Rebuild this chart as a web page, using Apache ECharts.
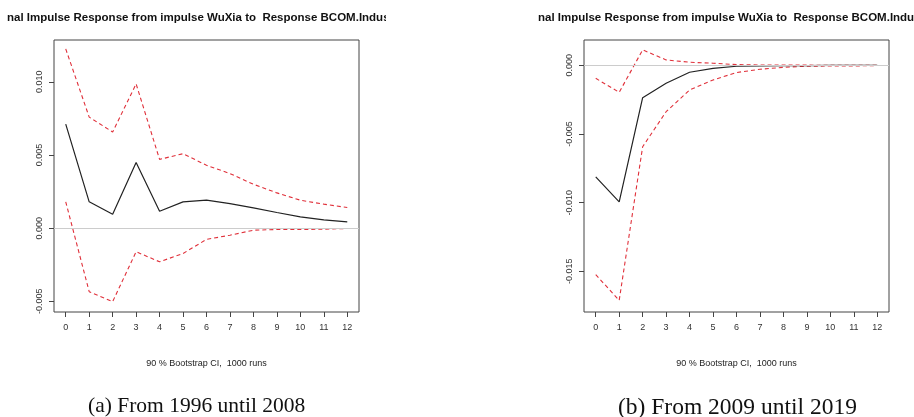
<!DOCTYPE html>
<html>
<head>
<meta charset="utf-8">
<script src="https://cdn.jsdelivr.net/npm/echarts@6/dist/echarts.min.js"></script>
<style>
html,body{margin:0;padding:0;background:#fff;}
#wrap{position:relative;width:914px;height:417px;overflow:hidden;}
#ca{position:absolute;left:0;top:0;width:386px;height:417px;}
#cb{position:absolute;left:386px;top:0;width:528px;height:417px;}
</style>
</head>
<body>
<div id="wrap"><div id="ca"></div><div id="cb"></div></div>
<script>
const horizons = ['0','1','2','3','4','5','6','7','8','9','10','11','12'];
const titleText = 'nal Impulse Response from impulse WuXia to  Response BCOM.Indus';
const xName = '90 % Bootstrap CI,  1000 runs';

// (a) 1996-2008
const irfA   = [0.00711, 0.00180, 0.00095, 0.00448, 0.00116, 0.00180, 0.00191, 0.00168, 0.00139, 0.00107, 0.00077, 0.00057, 0.00043];
const upperA = [0.01225, 0.00759, 0.00657, 0.00986, 0.00470, 0.00509, 0.00430, 0.00373, 0.00300, 0.00241, 0.00191, 0.00164, 0.00141];
const lowerA = [0.00180, -0.00434, -0.00502, -0.00161, -0.00230, -0.00173, -0.00077, -0.00048, -0.00014, -0.00009, -0.00009, -0.00007, -0.00002];
const yTicksA = [-0.005, 0.000, 0.005, 0.010];
const captionA = '(a) From 1996 until 2008';

// (b) 2009-2019
const irfB   = [-0.00812, -0.00994, -0.00236, -0.00131, -0.00051, -0.00022, -0.00007, -0.00005, -0.00003, -0.00002, -0.00001, -0.00001, 0];
const upperB = [-0.00095, -0.00197, 0.00112, 0.00039, 0.00022, 0.00015, 0.00005, 0.00002, 0.00001, 0.00001, 0, 0, 0];
const lowerB = [-0.01524, -0.01711, -0.00593, -0.00338, -0.00180, -0.00107, -0.00053, -0.00029, -0.00015, -0.00007, -0.00005, -0.00005, -0.00002];
const yTicksB = [-0.015, -0.010, -0.005, 0.000];
const captionB = '(b) From 2009 until 2019';

function build(cfg){
  const lab = {fontFamily:'Liberation Sans, Arial, sans-serif', fontSize:9, color:'#333'};
  return {
    animation:false,
    backgroundColor:'#fff',
    grid:{left:cfg.gl, right:cfg.gr, top:40, bottom:105, show:true, borderColor:'#444', borderWidth:1, backgroundColor:'transparent'},
    xAxis:{
      type:'category', data:horizons, boundaryGap:true,
      axisLine:{show:false, onZero:false},
      axisTick:{show:true, alignWithLabel:true, length:5, lineStyle:{color:'#444'}},
      axisLabel:Object.assign({margin:11, interval:0}, lab),
      splitLine:{show:false},
      name:xName, nameLocation:'middle', nameGap:47,
      nameTextStyle:{fontFamily:'Liberation Sans, Arial, sans-serif', fontSize:9, color:'#222'}
    },
    yAxis:{
      type:'value', min:cfg.ymin, max:cfg.ymax, scale:true,
      axisLine:{show:false},
      axisTick:{show:true, length:5, customValues:cfg.ticks, lineStyle:{color:'#444'}},
      axisLabel:Object.assign({rotate:90, margin:10, customValues:cfg.ticks, formatter:v=>Number(v).toFixed(3)}, lab),
      splitLine:{show:false}
    },
    graphic:[
      {type:'text', left:cfg.tx, top:12, style:{text:titleText, font:'bold 11.5px "Liberation Sans", Arial, sans-serif', fill:'#111'}},
      {type:'text', left:cfg.cx, top:cfg.cy, style:{text:cfg.caption, font:cfg.cf+'px "Liberation Serif", "Times New Roman", serif', fill:'#111'}}
    ],
    series:[
      {type:'line', data:cfg.upper, symbol:'none', z:3, lineStyle:{color:'#e0303a', width:1.1, type:[4,3]}},
      {type:'line', data:cfg.lower, symbol:'none', z:3, lineStyle:{color:'#e0303a', width:1.1, type:[4,3]}},
      {type:'line', data:cfg.irf, symbol:'none', z:4, lineStyle:{color:'#222', width:1.2}},
      {type:'line', data:[], symbol:'none', z:5,
        markLine:{silent:true, symbol:'none', label:{show:false}, lineStyle:{color:'#cccccc', type:'solid', width:1.2}, data:[{yAxis:0}]}}
    ]
  };
}

const chA = echarts.init(document.getElementById('ca'), null, {renderer:'canvas'});
chA.setOption(build({gl:54, gr:27, ymin:-0.00573, ymax:0.01286, ticks:yTicksA, irf:irfA, upper:upperA, lower:lowerA,
  tx:7, caption:captionA, cx:88, cy:395, cf:21.5}));

const chB = echarts.init(document.getElementById('cb'), null, {renderer:'canvas'});
chB.setOption(build({gl:198, gr:25, ymin:-0.01796, ymax:0.00184, ticks:yTicksB, irf:irfB, upper:upperB, lower:lowerB,
  tx:152, caption:captionB, cx:232, cy:396, cf:23.5}));
</script>
</body>
</html>
